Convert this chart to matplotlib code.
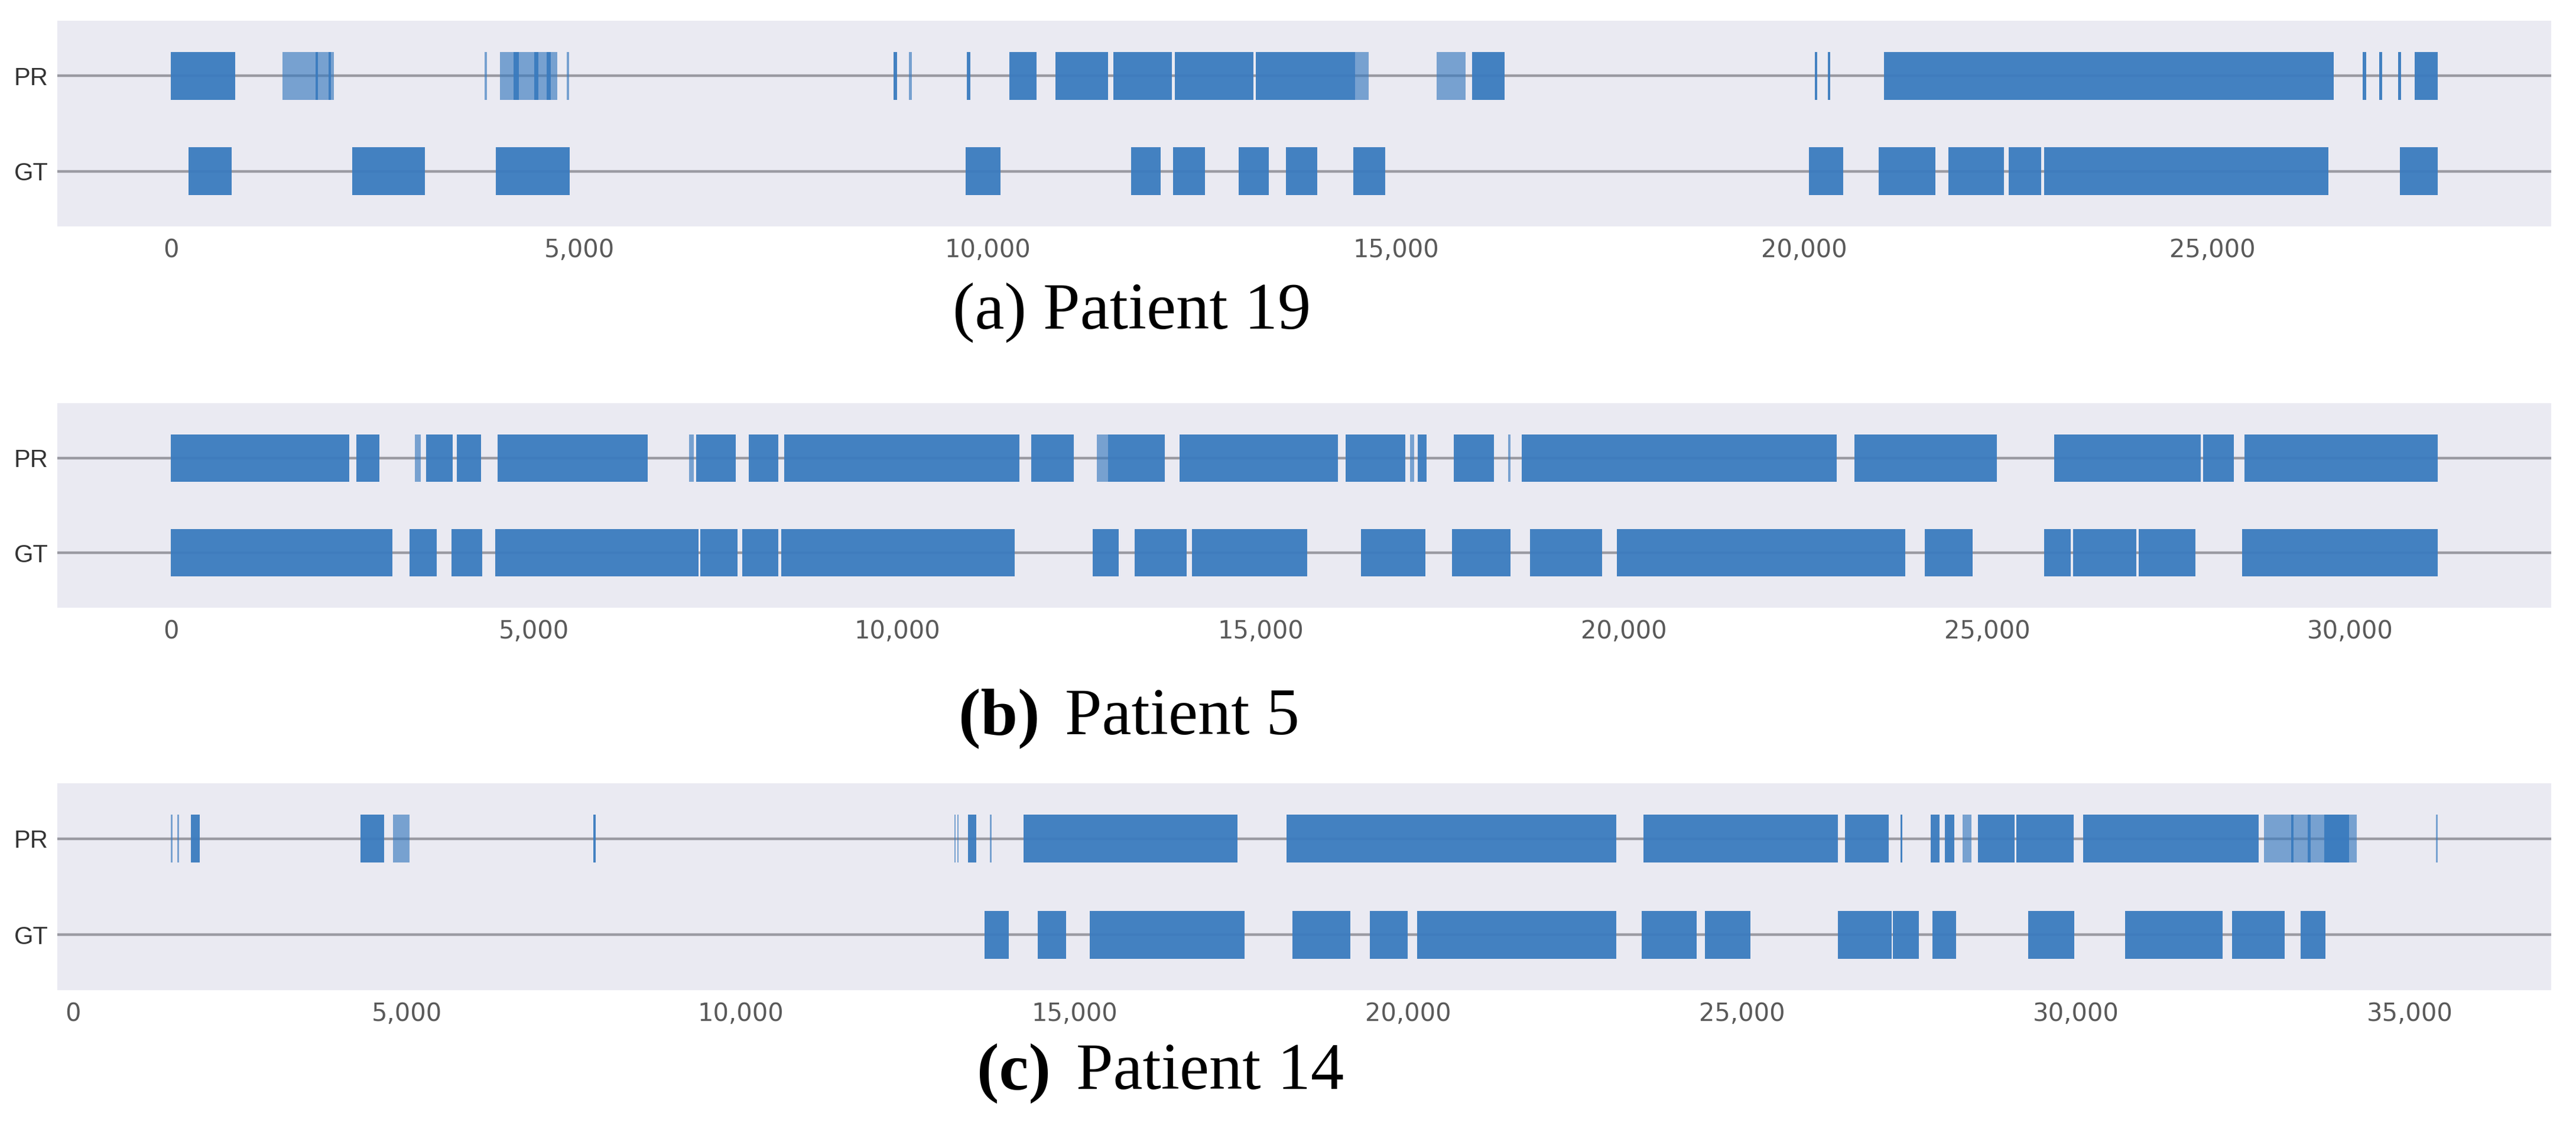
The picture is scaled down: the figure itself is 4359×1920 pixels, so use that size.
import matplotlib.pyplot as plt
from matplotlib.ticker import MultipleLocator, FuncFormatter

filas = ["GT", "PR"]

# Patient 19: segmentos (inicio, fin) en muestras
p19_pr = [(0, 787), (1770, 1800), (1930, 1960), (4200, 4260), (4450, 4500), (4600, 4650),
          (8850, 8890), (9750, 9790), (10266, 10598), (10831, 11476), (11543, 12260),
          (12290, 13255), (13285, 14500), (15930, 16330), (20130, 20160), (20290, 20320),
          (20978, 26486), (26840, 26880), (27040, 27080), (27270, 27310), (27477, 27759)]
p19_pr_debil = [(1367, 2000), (3840, 3870), (4033, 4733), (4850, 4880), (9040, 9070),
                (14500, 14668), (15500, 15850)]
p19_gt = [(220, 747), (2220, 3113), (3980, 4887), (9734, 10160), (11756, 12121),
          (12274, 12660), (13072, 13445), (13651, 14037), (14482, 14868), (20054, 20476),
          (20911, 21608), (21762, 22446), (22500, 22901), (22935, 26419), (27290, 27759)]

# Patient 5
p5_pr = [(0, 2460), (2551, 2871), (3512, 3877), (3939, 4274), (4501, 6565), (7230, 7777),
         (7952, 8365), (8440, 11678), (11842, 12426), (12900, 13680), (13884, 16067),
         (16172, 16990), (17160, 17283), (17656, 18216), (18597, 22928), (23171, 25134),
         (25920, 27940), (27972, 28394), (28540, 31205)]
p5_pr_debil = [(3362, 3440), (7130, 7200), (12743, 12900), (17060, 17110), (18405, 18440)]
p5_gt = [(0, 3053), (3284, 3661), (3860, 4290), (4464, 7263), (7290, 7800), (7863, 8365),
         (8402, 11614), (12690, 13043), (13268, 13982), (14055, 15645), (16383, 17267),
         (17632, 18443), (18707, 19697), (19908, 23870), (24139, 24800), (25782, 26147),
         (26180, 27057), (27090, 27868), (28507, 31205)]

# Patient 14
p14_pr = [(1768, 1900), (4308, 4666), (7800, 7835), (13407, 13528), (14238, 17445),
          (18181, 23116), (23524, 26433), (26540, 27193), (27370, 27400), (27827, 27959),
          (28039, 28180), (28534, 29080), (29110, 29962), (30107, 32734), (33223, 33260),
          (33470, 33510), (33718, 34089)]
p14_pr_debil = [(1468, 1490), (1566, 1590), (4793, 5040), (13202, 13225), (13244, 13265),
                (13733, 13760), (28300, 28430), (32815, 34208), (35390, 35420)]
p14_gt = [(13651, 14018), (14450, 14874), (15227, 17551), (18262, 19135), (19422, 19994),
          (20136, 23116), (23498, 24321), (24444, 25128), (26433, 27236), (27260, 27646),
          (27853, 28205), (29286, 29970), (30737, 32198), (32337, 33124), (33363, 33733)]

fondo = "#EAEAF2"
azul = "#3A7BBF"

fig = plt.figure(figsize=(43.59, 19.2), dpi=100)

paneles = [
    ([0.0223, 0.8005, 0.9681, 0.1813], p19_pr, p19_pr_debil, p19_gt),
    ([0.0223, 0.4646, 0.9681, 0.1802], p5_pr, p5_pr_debil, p5_gt),
    ([0.0223, 0.1276, 0.9681, 0.1823], p14_pr, p14_pr_debil, p14_gt),
]


def tramos(segs):
    return [(a, b - a) for a, b in segs]


for pos, pr, pr_debil, gt in paneles:
    ax = fig.add_axes(pos)
    ax.set_facecolor(fondo)
    for s in ax.spines.values():
        s.set_visible(False)
    ax.broken_barh(tramos(pr_debil), (0.75, 0.5), facecolors=azul, alpha=0.65, zorder=2)
    ax.broken_barh(tramos(pr), (0.75, 0.5), facecolors=azul, alpha=0.95, zorder=3)
    ax.broken_barh(tramos(gt), (-0.25, 0.5), facecolors=azul, alpha=0.95, zorder=3)
    ax.margins(x=0.05)
    ax.set_ylim(-0.58, 1.58)
    ax.set_yticks([0, 1])
    ax.set_yticklabels(filas, fontsize=30, color="#333333", family="Liberation Sans")
    ax.grid(axis="y", color="#9A9AA2", linewidth=3.2, zorder=1)
    ax.grid(axis="x", visible=False)
    ax.set_axisbelow(True)
    ax.xaxis.set_major_locator(MultipleLocator(5000))
    ax.xaxis.set_major_formatter(FuncFormatter(lambda v, p: f"{int(v):,}"))
    ax.tick_params(axis="x", length=0, pad=14, labelsize=30, labelcolor="#5A5A5A")
    ax.tick_params(axis="y", length=0, pad=11)

serif = "Liberation Serif"
fig.text(0.4393, 0.725, "(a) Patient 19", ha="center", va="center", fontsize=81, family=serif)
fig.text(0.4037, 0.367, "(b)", ha="right", va="center", fontsize=81, family=serif, weight="bold")
fig.text(0.4133, 0.367, "Patient 5", ha="left", va="center", fontsize=81, family=serif)
fig.text(0.408, 0.0547, "(c)", ha="right", va="center", fontsize=81, family=serif, weight="bold")
fig.text(0.4177, 0.0547, "Patient 14", ha="left", va="center", fontsize=81, family=serif)

fig.savefig("out.png", dpi=100, facecolor="white")
